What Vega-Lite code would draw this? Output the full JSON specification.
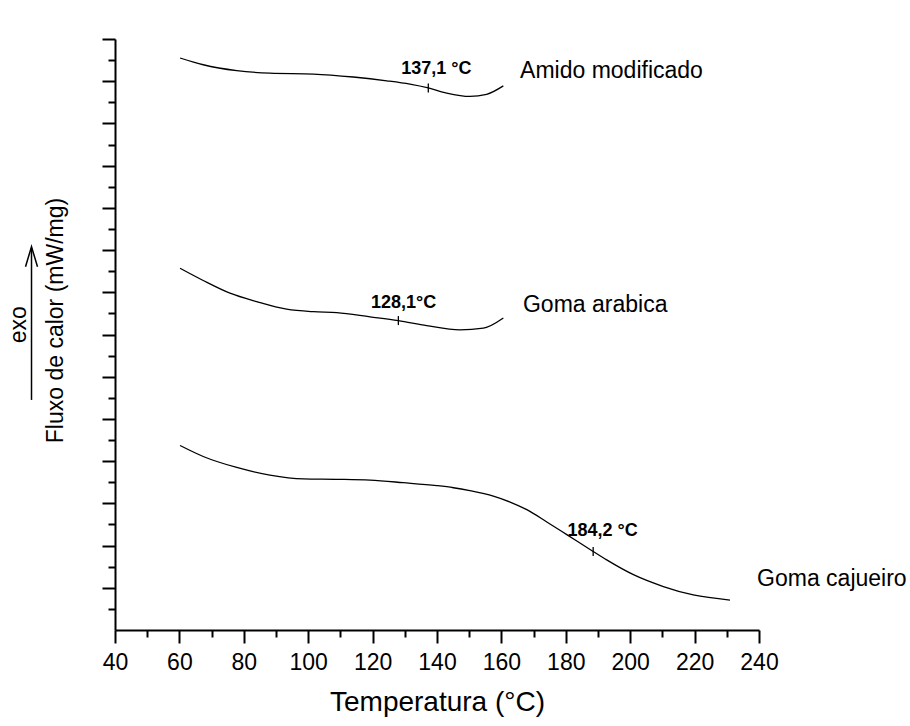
{
  "$schema": "https://vega.github.io/schema/vega-lite/v6.json",
  "width": 644,
  "height": 591,
  "autosize": {"type": "none"},
  "padding": {"left": 115, "top": 39, "right": 151, "bottom": 96},
  "background": "white",
  "config": {"view": {"stroke": null}, "font": "Liberation Sans"},
  "datasets": {
    "curves": [
      {"series": "Amido modificado", "t": 60.2, "v": 13.55},
      {"series": "Amido modificado", "t": 67.4, "v": 13.39},
      {"series": "Amido modificado", "t": 77.8, "v": 13.25},
      {"series": "Amido modificado", "t": 88.1, "v": 13.19},
      {"series": "Amido modificado", "t": 101.6, "v": 13.17},
      {"series": "Amido modificado", "t": 114.0, "v": 13.10},
      {"series": "Amido modificado", "t": 124.4, "v": 13.01},
      {"series": "Amido modificado", "t": 131.6, "v": 12.93},
      {"series": "Amido modificado", "t": 137.3, "v": 12.84},
      {"series": "Amido modificado", "t": 143.0, "v": 12.72},
      {"series": "Amido modificado", "t": 150.2, "v": 12.64},
      {"series": "Amido modificado", "t": 155.4, "v": 12.69},
      {"series": "Amido modificado", "t": 160.6, "v": 12.89},
      {"series": "Goma arabica", "t": 60.2, "v": 8.57},
      {"series": "Goma arabica", "t": 67.4, "v": 8.28},
      {"series": "Goma arabica", "t": 75.7, "v": 7.98},
      {"series": "Goma arabica", "t": 84.0, "v": 7.78},
      {"series": "Goma arabica", "t": 93.3, "v": 7.60},
      {"series": "Goma arabica", "t": 101.6, "v": 7.54},
      {"series": "Goma arabica", "t": 108.9, "v": 7.52},
      {"series": "Goma arabica", "t": 119.2, "v": 7.42},
      {"series": "Goma arabica", "t": 128.0, "v": 7.33},
      {"series": "Goma arabica", "t": 136.8, "v": 7.21},
      {"series": "Goma arabica", "t": 147.1, "v": 7.11},
      {"series": "Goma arabica", "t": 154.4, "v": 7.15},
      {"series": "Goma arabica", "t": 160.6, "v": 7.39},
      {"series": "Goma cajueiro", "t": 60.2, "v": 4.37},
      {"series": "Goma cajueiro", "t": 67.4, "v": 4.11},
      {"series": "Goma cajueiro", "t": 77.8, "v": 3.85},
      {"series": "Goma cajueiro", "t": 88.1, "v": 3.67},
      {"series": "Goma cajueiro", "t": 98.5, "v": 3.58},
      {"series": "Goma cajueiro", "t": 108.9, "v": 3.57},
      {"series": "Goma cajueiro", "t": 119.2, "v": 3.55},
      {"series": "Goma cajueiro", "t": 129.5, "v": 3.49},
      {"series": "Goma cajueiro", "t": 139.9, "v": 3.42},
      {"series": "Goma cajueiro", "t": 145.1, "v": 3.37},
      {"series": "Goma cajueiro", "t": 150.2, "v": 3.30},
      {"series": "Goma cajueiro", "t": 157.5, "v": 3.17},
      {"series": "Goma cajueiro", "t": 162.7, "v": 3.03},
      {"series": "Goma cajueiro", "t": 167.9, "v": 2.85},
      {"series": "Goma cajueiro", "t": 174.1, "v": 2.56},
      {"series": "Goma cajueiro", "t": 180.3, "v": 2.26},
      {"series": "Goma cajueiro", "t": 188.5, "v": 1.86},
      {"series": "Goma cajueiro", "t": 192.7, "v": 1.66},
      {"series": "Goma cajueiro", "t": 201.0, "v": 1.31},
      {"series": "Goma cajueiro", "t": 210.3, "v": 1.03},
      {"series": "Goma cajueiro", "t": 219.6, "v": 0.83},
      {"series": "Goma cajueiro", "t": 231.0, "v": 0.71}
    ],
    "markers": [
      {"t": 137.3, "v": 12.84},
      {"t": 128.0, "v": 7.33},
      {"t": 188.5, "v": 1.86}
    ],
    "annotations": [
      {"label": "137,1 °C", "t": 139.8, "v": 13.18},
      {"label": "128,1°C", "t": 129.6, "v": 7.63},
      {"label": "184,2 °C", "t": 191.4, "v": 2.23}
    ],
    "names": [
      {"label": "Amido modificado", "t": 165.8, "v": 13.08},
      {"label": "Goma arabica", "t": 166.7, "v": 7.54},
      {"label": "Goma cajueiro", "t": 239.4, "v": 1.04}
    ],
    "exo": [{"label": "exo", "t": 12.36, "v": 7.23}],
    "arrow": [{"t": 14.07, "v": 5.45, "v2": 9.05}],
    "arrowhead": [{"t": 14.07, "v": 9.08}]
  },
  "encoding": {
    "x": {
      "field": "t",
      "type": "quantitative",
      "scale": {"domain": [40, 240], "nice": false, "zero": false},
      "axis": {
        "values": [40, 50, 60, 70, 80, 90, 100, 110, 120, 130, 140, 150, 160, 170, 180, 190, 200, 210, 220, 230, 240],
        "labelExpr": "datum.value % 20 === 0 ? datum.label : ''",
        "tickSize": {"condition": {"test": "datum.value % 20 === 0", "value": 13}, "value": 7},
        "tickWidth": 2,
        "tickColor": "black",
        "domainColor": "black",
        "domainWidth": 2,
        "grid": false,
        "labelFont": "Liberation Sans",
        "labelFontSize": 23,
        "labelColor": "black",
        "labelPadding": 8,
        "labelFlush": false,
        "labelOverlap": false,
        "title": "Temperatura (°C)",
        "titleFont": "Liberation Sans",
        "titleFontSize": 28,
        "titleFontWeight": "normal",
        "titleColor": "black",
        "titleBaseline": "alphabetic",
        "titleY": 80
      }
    },
    "y": {
      "field": "v",
      "type": "quantitative",
      "scale": {"domain": [0, 14], "nice": false, "zero": false},
      "axis": {
        "values": [0.5, 1, 1.5, 2, 2.5, 3, 3.5, 4, 4.5, 5, 5.5, 6, 6.5, 7, 7.5, 8, 8.5, 9, 9.5, 10, 10.5, 11, 11.5, 12, 12.5, 13, 13.5, 14],
        "labels": false,
        "tickSize": {"condition": {"test": "datum.value % 1 === 0", "value": 13}, "value": 7},
        "tickWidth": 2,
        "tickColor": "black",
        "domainColor": "black",
        "domainWidth": 2,
        "grid": false,
        "title": "Fluxo de calor (mW/mg)",
        "titleFont": "Liberation Sans",
        "titleFontSize": 23,
        "titleFontWeight": "normal",
        "titleColor": "black",
        "titleAngle": 270,
        "titleAlign": "center",
        "titleBaseline": "alphabetic",
        "titleX": -53,
        "titleY": 281
      }
    }
  },
  "layer": [
    {
      "data": {"name": "curves"},
      "mark": {"type": "line", "color": "black", "strokeWidth": 1.3, "interpolate": "monotone"},
      "encoding": {"detail": {"field": "series"}}
    },
    {
      "data": {"name": "markers"},
      "mark": {"type": "point", "shape": "M0,-1L0,1", "size": 81, "filled": false, "stroke": "black", "strokeWidth": 1.3, "opacity": 1}
    },
    {
      "data": {"name": "annotations"},
      "mark": {"type": "text", "font": "Liberation Sans", "fontSize": 18, "fontWeight": "bold", "align": "center", "baseline": "alphabetic", "color": "black"},
      "encoding": {"text": {"field": "label"}}
    },
    {
      "data": {"name": "names"},
      "mark": {"type": "text", "font": "Liberation Sans", "fontSize": 23, "align": "left", "baseline": "alphabetic", "color": "black"},
      "encoding": {"text": {"field": "label"}}
    },
    {
      "data": {"name": "exo"},
      "mark": {"type": "text", "font": "Liberation Sans", "fontSize": 23, "angle": 270, "align": "center", "baseline": "alphabetic", "color": "black"},
      "encoding": {"text": {"field": "label"}}
    },
    {
      "data": {"name": "arrow"},
      "mark": {"type": "rule", "color": "black", "strokeWidth": 1.5},
      "encoding": {"y2": {"field": "v2"}}
    },
    {
      "data": {"name": "arrowhead"},
      "mark": {"type": "point", "shape": "M-1.2,4L0,0L1.2,4", "size": 100, "filled": false, "stroke": "black", "strokeWidth": 1.5, "opacity": 1}
    }
  ]
}
